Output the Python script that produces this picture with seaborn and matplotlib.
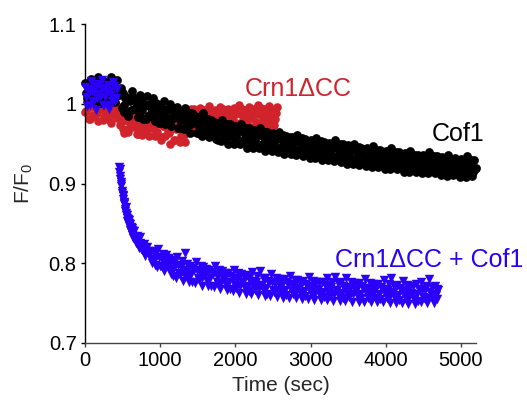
import numpy as np
import pandas as pd
import matplotlib
matplotlib.use("Agg")
import matplotlib.pyplot as plt
import seaborn as sns

# ---------------- data (F/F0 x 1000, sampled every 25 s; second set half a step later) ----------------
STEP = 25    # seconds between samples of one set
HALF = 12.5  # time offset of the second set of samples

# Cof1 (black circles), set A: t = 0 .. 5200 s
cof1_a_milli = [
    1026, 1007, 1019, 1031, 1003, 1022, 1012, 1033, 1001, 1018,
    1028, 1009, 1024, 1005, 1034, 1014, 1002, 1030, 1011, 1020,
    1014, 990, 1008, 985, 1003, 1016, 993, 1006, 983, 1011,
    1004, 981, 999, 1010, 986, 995, 1007, 978, 1001, 989,
    998, 976, 1004, 983, 993, 1000, 972, 990, 985, 996,
    991, 969, 986, 995, 975, 982, 963, 988, 978, 984,
    983, 962, 978, 988, 966, 974, 958, 980, 970, 963,
    976, 955, 971, 979, 960, 968, 950, 974, 963, 957,
    972, 951, 966, 975, 955, 962, 945, 969, 958, 952,
    967, 947, 961, 970, 950, 958, 941, 964, 953, 946,
    963, 943, 957, 965, 946, 954, 937, 960, 949, 942,
    958, 939, 953, 961, 942, 950, 934, 956, 945, 938,
    955, 935, 949, 957, 939, 946, 930, 952, 941, 935,
    951, 932, 946, 954, 935, 943, 927, 949, 938, 931,
    948, 929, 942, 950, 932, 940, 923, 945, 935, 928,
    944, 926, 939, 947, 929, 937, 921, 942, 932, 925,
    941, 923, 936, 944, 926, 934, 918, 939, 929, 922,
    938, 920, 933, 941, 923, 931, 915, 936, 926, 919,
    936, 918, 931, 939, 921, 929, 913, 934, 924, 917,
    933, 916, 929, 936, 919, 927, 911, 932, 922, 915,
    931, 914, 927, 934, 917, 925, 910, 930, 920,
]
# Cof1 set B: t = 12.5 .. 5187.5 s
cof1_b_milli = [
    1014, 1023, 1004, 1021, 1009, 1027, 1012, 1017, 1025, 1003,
    1014, 1023, 1004, 1021, 1009, 1027, 1012, 1017, 1019, 995,
    999, 1007, 988, 1005, 992, 1009, 994, 998, 1005, 983,
    992, 1000, 981, 998, 985, 1002, 987, 991, 998, 976,
    986, 994, 975, 992, 979, 996, 981, 985, 992, 970,
    979, 987, 968, 985, 972, 989, 974, 978, 985, 963,
    971, 979, 960, 977, 964, 981, 966, 970, 977, 956,
    964, 972, 953, 970, 957, 974, 959, 963, 971, 949,
    960, 968, 949, 966, 953, 970, 955, 959, 966, 945,
    955, 963, 944, 961, 948, 965, 950, 954, 962, 941,
    951, 959, 940, 957, 944, 961, 946, 950, 958, 937,
    946, 954, 936, 953, 940, 957, 942, 946, 953, 932,
    943, 951, 932, 949, 936, 953, 938, 942, 950, 929,
    939, 947, 928, 945, 932, 949, 934, 938, 946, 925,
    936, 944, 925, 942, 929, 946, 931, 935, 943, 922,
    932, 940, 921, 938, 925, 942, 927, 931, 939, 918,
    929, 937, 918, 935, 922, 939, 924, 928, 936, 915,
    926, 934, 915, 932, 919, 936, 921, 925, 933, 913,
    924, 932, 913, 930, 917, 934, 919, 923, 931, 911,
    921, 929, 910, 927, 914, 931, 916, 920, 928, 908,
    919, 927, 908, 925, 912, 929, 914, 918,
]

# Crn1dCC (red circles), set A: t = 0 .. 2550 s
crn1_a_milli = [
    990, 1003, 981, 996, 1008, 985, 999, 978, 993, 1005,
    983, 997, 1009, 988, 976, 1001, 991, 982, 996,
    985, 968, 979, 990, 964, 976, 983, 971, 987, 962,
    978, 989, 966, 975, 984, 960, 981, 970, 986, 963,
    976, 984, 958, 972, 981, 966, 949, 979, 969, 955,
    974, 983, 960, 970, 952, 978, 990, 968, 984, 993,
    972, 987, 995, 966, 981, 990, 975, 997, 969, 985,
    992, 973, 983, 996, 967, 988, 978, 994, 971, 986,
    995, 974, 989, 998, 968, 983, 992, 976, 996, 970,
    987, 994, 977, 998, 966, 985, 993, 973, 990, 997,
    975, 992, 981, 996,
]
# Crn1dCC set B: t = 12.5 .. 2537.5 s
crn1_b_milli = [
    991, 1000, 981, 998, 986, 1004, 989, 994, 1002, 980,
    991, 1000, 981, 998, 986, 1004, 989, 994,
    973, 982, 963, 980, 968, 986, 971, 976, 984, 962,
    971, 980, 961, 978, 966, 984, 969, 974, 982, 960,
    965, 974, 955, 972, 960, 978, 963, 968, 976, 954,
    968, 980, 952, 979, 961, 990, 970, 982, 993, 965,
    979, 988, 969, 986, 974, 992, 977, 982, 990, 968,
    980, 989, 970, 987, 975, 993, 978, 983, 991, 969,
    981, 990, 971, 988, 976, 994, 979, 984, 992, 970,
    982, 991, 972, 987, 975, 995, 978, 985, 993, 971,
    981, 990, 973, 988,
]

# Crn1dCC + Cof1 (blue triangles)
# before addition, set A: t = 0 .. 425 s ; set B: t = 12.5 .. 412.5 s
mix_pre_a_milli = [
    1021, 997, 1013, 1028, 1002, 1017, 992, 1025, 1008, 1030,
    999, 1015, 1023, 994, 1011, 1027, 1004, 1019,
]
mix_pre_b_milli = [
    1009, 1018, 999, 1016, 1004, 1022, 1007, 1012, 1020, 998,
    1009, 1018, 999, 1016, 1004, 1022, 1007,
]
# fast phase, t = 450 .. 645 s, every 5 s
mix_fast_start, FAST_STEP = 450, 5
mix_fast_milli = [
    921, 915, 918, 909, 906, 902, 897, 899, 891, 888,
    886, 881, 884, 876, 874, 877, 868, 866, 870, 861,
    863, 857, 860, 853, 856, 850, 854, 847, 851, 844,
    849, 842, 846, 839, 844, 836, 842, 834, 840, 832,
]
# slow phase, set A: t = 650 .. 4700 s
mix_slow_start = 650
mix_slow_a_milli = [
    841, 826, 831, 833, 818, 822, 809, 820, 810, 805,
    815, 798, 808, 818, 797, 804, 790, 810, 797, 791,
    804, 784, 797, 808, 788, 795, 778, 813, 788, 782,
    797, 777, 791, 801, 782, 789, 772, 795, 785, 778,
    792, 772, 786, 796, 777, 784, 768, 790, 780, 773,
    788, 768, 782, 792, 773, 780, 763, 786, 776, 769,
    785, 765, 778, 789, 770, 777, 760, 790, 773, 765,
    781, 762, 776, 786, 767, 774, 758, 780, 770, 763,
    780, 760, 774, 784, 765, 772, 756, 779, 768, 761,
    778, 759, 772, 783, 764, 771, 754, 777, 767, 760,
    777, 758, 771, 782, 763, 770, 753, 783, 766, 759,
    776, 757, 770, 781, 762, 769, 752, 775, 765, 758,
    775, 756, 769, 780, 761, 768, 751, 774, 764, 757,
    774, 755, 768, 779, 760, 767, 750, 781, 763, 756,
    773, 754, 767, 778, 759, 766, 749, 772, 762, 755,
    774, 753, 768, 777, 758, 767, 750, 780, 761, 756,
    772, 755, 766,
]
# slow phase, set B: t = 662.5 .. 4687.5 s
mix_slow_b_milli = [
    832, 834, 819, 826, 816, 824, 813, 813, 815, 800,
    805, 812, 795, 808, 797, 811, 798, 801, 806, 787,
    793, 801, 782, 798, 785, 803, 787, 791, 799, 776,
    786, 794, 775, 792, 779, 797, 782, 786, 793, 771,
    781, 789, 770, 787, 774, 792, 777, 781, 788, 766,
    776, 784, 765, 782, 769, 788, 772, 776, 784, 762,
    772, 781, 762, 778, 766, 784, 769, 773, 781, 759,
    769, 778, 759, 776, 764, 781, 766, 771, 779, 757,
    767, 776, 757, 774, 762, 779, 764, 769, 777, 755,
    765, 774, 755, 772, 760, 778, 763, 768, 776, 754,
    764, 773, 754, 771, 759, 777, 762, 767, 775, 753,
    763, 772, 753, 770, 758, 776, 761, 766, 774, 752,
    762, 771, 752, 769, 757, 775, 760, 765, 773, 751,
    761, 770, 751, 768, 756, 774, 759, 764, 772, 750,
    760, 769, 750, 767, 755, 773, 758, 763, 771, 749,
    761, 768, 751, 766, 756, 772, 757, 764, 770, 750,
    760, 768,
]

x_ticks = [0, 1000, 2000, 3000, 4000, 5000]
y_ticks = [0.7, 0.8, 0.9, 1.0, 1.1]
y_tick_labels = ["0.7", "0.8", "0.9", "1", "1.1"]

RED = "#d0232b"
BLUE = "#2a00f8"
BLACK = "#000000"


def series(start, step, milli):
    v = np.asarray(milli, dtype=float) / 1000.0
    t = start + step * np.arange(len(v))
    return pd.DataFrame({"t": t, "f": v})


df_cof1 = pd.concat([series(0, STEP, cof1_a_milli),
                     series(HALF, STEP, cof1_b_milli)], ignore_index=True)
df_crn1 = pd.concat([series(0, STEP, crn1_a_milli),
                     series(HALF, STEP, crn1_b_milli)], ignore_index=True)
df_mix = pd.concat([
    series(0, STEP, mix_pre_a_milli),
    series(HALF, STEP, mix_pre_b_milli),
    series(mix_fast_start, FAST_STEP, mix_fast_milli),
    series(mix_slow_start, STEP, mix_slow_a_milli),
    series(mix_slow_start + HALF, STEP, mix_slow_b_milli),
], ignore_index=True)

# ---------------- style ----------------
sns.set_theme(style="ticks")
plt.rcParams["font.family"] = ["Liberation Sans", "DejaVu Sans"]
plt.rcParams["mathtext.fontset"] = "custom"
plt.rcParams["mathtext.rm"] = "Liberation Sans"
plt.rcParams["mathtext.it"] = "Liberation Sans"

fig = plt.figure(figsize=(5.27, 4.04), dpi=100)
ax = fig.add_axes([85 / 527, 1 - 343 / 404, (476 - 85) / 527, (343 - 24) / 404])

sns.scatterplot(data=df_crn1, x="t", y="f", ax=ax, color=RED, marker="o",
                s=38, linewidth=0, legend=False, clip_on=False, zorder=2)
sns.scatterplot(data=df_cof1, x="t", y="f", ax=ax, color=BLACK, marker="o",
                s=40, linewidth=0, legend=False, clip_on=False, zorder=3)
sns.scatterplot(data=df_mix, x="t", y="f", ax=ax, color=BLUE, marker="v",
                s=46, linewidth=0, legend=False, clip_on=False, zorder=4)

ax.set_xlim(0, 5200)
ax.set_ylim(0.7, 1.1)
ax.set_xticks(x_ticks)
ax.set_yticks(y_ticks)
ax.set_yticklabels(y_tick_labels)
ax.tick_params(axis="both", labelsize=14.5, length=3, width=1, direction="out", pad=3)
ax.tick_params(axis="x", colors="#444444", labelcolor="black")
ax.tick_params(axis="y", colors="black")

sns.despine(ax=ax)
ax.spines["left"].set_color("black")
ax.spines["bottom"].set_color("#444444")
ax.spines["left"].set_linewidth(1)
ax.spines["bottom"].set_linewidth(1)

ax.set_xlabel("Time (sec)", fontsize=15, labelpad=4)
ax.set_ylabel(r"F/F$_\mathregular{0}$", fontsize=15, labelpad=10)

ax.text(2128, 1.0097, "Crn1\u0394CC", color=RED, fontsize=18, ha="left", va="baseline")
ax.text(4615, 0.9533, "Cof1", color=BLACK, fontsize=18, ha="left", va="baseline")
ax.text(3320, 0.7957, "Crn1\u0394CC + Cof1", color=BLUE, fontsize=18, ha="left", va="baseline")

fig.savefig("out.png", dpi=100)
